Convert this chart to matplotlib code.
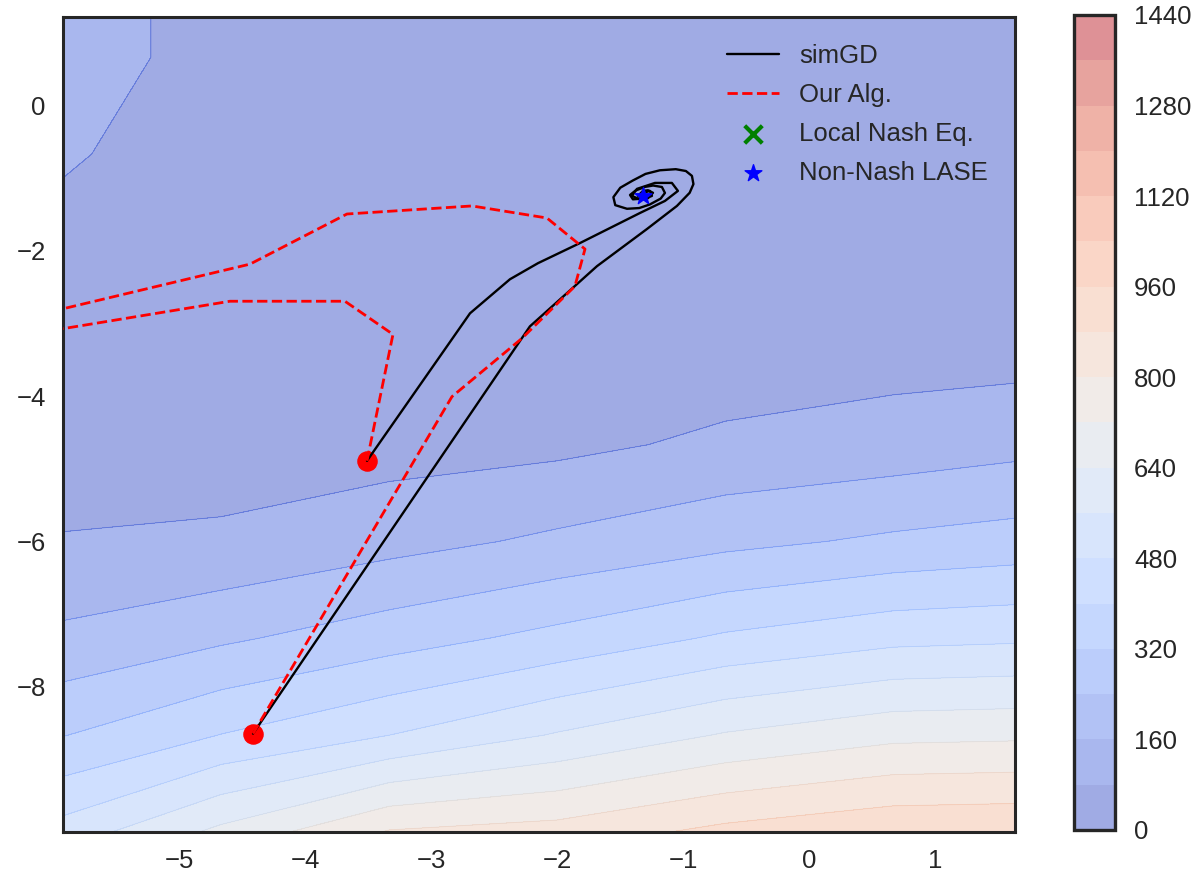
import numpy as np
import matplotlib
matplotlib.use("Agg")
import matplotlib.pyplot as plt
import seaborn as sns

sns.set_style("white")
plt.rcParams["font.family"] = ["Liberation Sans", "DejaVu Sans"]
plt.rcParams["font.size"] = 18.5
plt.rcParams["axes.linewidth"] = 2.2
plt.rcParams["axes.edgecolor"] = ".15"

grid_x = [-6.0, -4.667, -3.333, -2.0, -0.667, 0.667, 2.0]
grid_y = [-10.0, -8.667, -7.333, -6.0, -4.667, -3.333, -2.0, -0.667, 0.667, 2.0]
cost = [
    [506, 660, 807, 833, 903, 947, 955],
    [312, 402, 480, 567, 647, 699, 708],
    [175, 227, 285, 344, 412, 458, 471],
    [83, 92, 132, 175, 219, 254, 280],
    [50, 45, 48, 61, 96, 115, 144],
    [45, 35, 25, 25, 30, 47, 50],
    [68, 40, 20, 10, 10, 15, 25],
    [86, 60, 30, 15, 12, 15, 25],
    [101, 65, 40, 25, 20, 25, 35],
    [101, 65, 50, 40, 35, 40, 50],
]

# simGD trajectories
sim1_x = [-3.509, -2.692, -2.375, -2.153, -1.820, -1.344, -1.146, -1.043, -1.091,
          -1.225, -1.368, -1.408, -1.336, -1.249, -1.265, -1.320, -1.320]
sim1_y = [-4.890, -2.859, -2.390, -2.169, -1.892, -1.478, -1.312, -1.174, -1.064,
          -1.064, -1.146, -1.243, -1.298, -1.243, -1.174, -1.202, -1.243]
sim2_x = [-4.413, -2.217, -1.685, -1.289, -1.051, -0.950, -0.920, -0.932, -0.980,
          -1.060, -1.186, -1.300, -1.400, -1.500, -1.555, -1.540, -1.447, -1.350,
          -1.265, -1.180, -1.146, -1.170, -1.240, -1.305, -1.380, -1.423, -1.400,
          -1.281, -1.241, -1.280, -1.320, -1.360, -1.305]
sim2_y = [-8.646, -3.039, -2.210, -1.699, -1.381, -1.200, -1.080, -0.967, -0.900,
          -0.875, -0.890, -0.940, -1.030, -1.130, -1.260, -1.370, -1.420, -1.410,
          -1.360, -1.280, -1.202, -1.120, -1.100, -1.119, -1.170, -1.230, -1.290,
          -1.275, -1.200, -1.165, -1.174, -1.243, -1.271]

# "Our Alg." trajectories
alg1_x = [-3.509, -3.303, -3.684, -4.596, -5.904, -6.05]
alg1_y = [-4.890, -3.149, -2.693, -2.693, -3.066, -3.09]
alg2_x = [-4.413, -2.835, -2.280, -1.860, -1.780, -2.082, -2.676, -3.668, -4.437,
          -5.904, -6.05]
alg2_y = [-8.646, -4.006, -3.204, -2.486, -1.975, -1.547, -1.381, -1.492, -2.182,
          -2.790, -2.83]

start_x = [-3.509, -4.413]
start_y = [-4.890, -8.646]
lase_x = [-1.32]
lase_y = [-1.24]
nash_x = []
nash_y = []

fig = plt.figure(figsize=(12, 8.77), dpi=100)
ax = fig.add_axes([0.0525, 0.0513, 0.7933, 0.9293])
cax = fig.add_axes([0.895, 0.0536, 0.034, 0.9293])

levels = np.arange(0, 1441, 80)
X, Y = np.meshgrid(grid_x, grid_y)
Z = np.array(cost, dtype=float)
cf = ax.contourf(X, Y, Z, levels=levels, cmap="coolwarm", alpha=0.5)
ax.contour(X, Y, Z, levels=levels, cmap="coolwarm", alpha=0.5, linewidths=0.6)

ax.scatter(start_x, start_y, color="red", s=190, zorder=3)
ax.plot(sim1_x, sim1_y, color="black", lw=1.7, zorder=4, label="simGD")
ax.plot(sim2_x, sim2_y, color="black", lw=1.7, zorder=4)
ax.plot(alg1_x, alg1_y, color="red", ls="--", lw=2.0, zorder=4, label="Our Alg.")
ax.plot(alg2_x, alg2_y, color="red", ls="--", lw=2.0, zorder=4)
ax.scatter(nash_x, nash_y, marker="x", color="green", s=160, linewidths=3,
           label="Local Nash Eq.")
ax.scatter(lase_x, lase_y, marker="*", color="blue", s=160, zorder=5,
           label="Non-Nash LASE")

ax.set_xlim(-5.92, 1.63)
ax.set_ylim(-10.0, 1.22)
ax.set_xticks([-5, -4, -3, -2, -1, 0, 1])
ax.set_yticks([-8, -6, -4, -2, 0])
ax.tick_params(labelsize=18.5, pad=9)

ax.legend(loc="upper right", frameon=False, fontsize=18.5, handlelength=2.0,
          handletextpad=0.8, labelspacing=0.58, borderaxespad=0.75,
          borderpad=0.3)

cbar = fig.colorbar(cf, cax=cax)
cbar.set_ticks(np.arange(0, 1441, 160))
cbar.ax.tick_params(labelsize=18.5, length=0, pad=14)
cbar.outline.set_linewidth(2.4)
cbar.outline.set_edgecolor(".15")

fig.savefig("out.png", dpi=100)
